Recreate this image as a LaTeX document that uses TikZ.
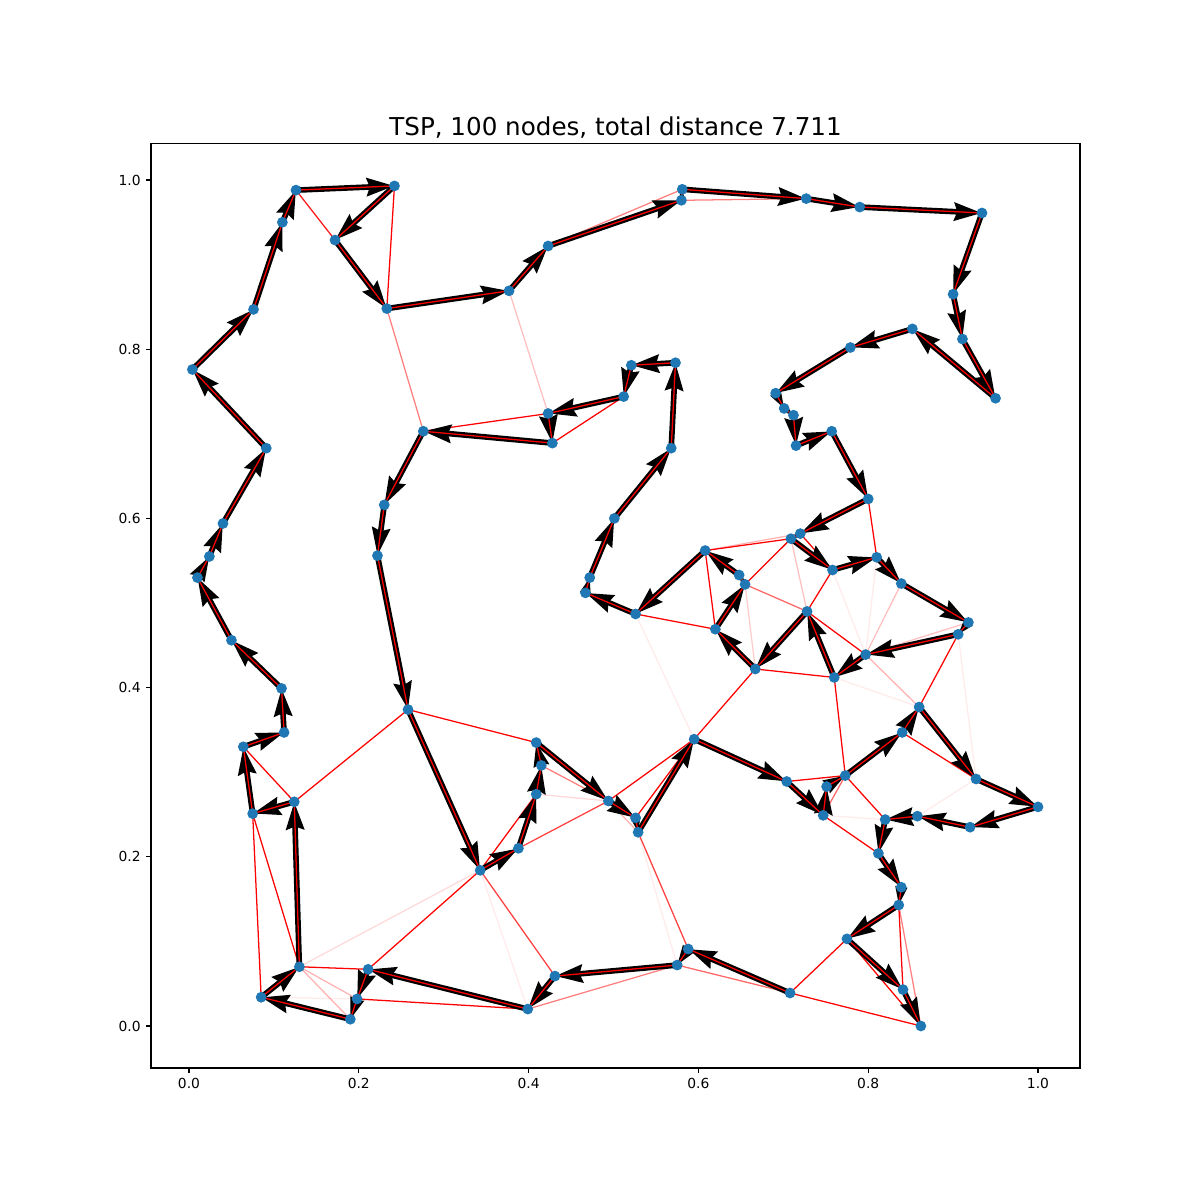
\documentclass[tikz,border=0pt]{standalone}
\usepackage{fontspec}
\setmainfont{DejaVu Sans}
\usetikzlibrary{arrows.meta,backgrounds}
\definecolor{mplblue}{RGB}{31,119,180}

\tikzset{
  city/.style={circle, fill=mplblue, inner sep=0pt, minimum size=0.108cm},
  heat/.style={red, line width=0.36pt},
  axisline/.style={line width=0.31pt},
  ticklabel/.style={font=\fontsize{3.94pt}{4.7pt}\selectfont, inner sep=0pt}
}

\begin{document}
\begin{tikzpicture}
\useasboundingbox (0,0) rectangle (12,12);

\begin{scope}[shift={(1.89,1.74)}, x=8.49cm, y=8.46cm]

% Axes
\coordinate (lowleft) at (-0.0448,-0.0496);
\coordinate (upright) at (1.0495,1.0426);
\draw[axisline] (lowleft) rectangle (upright);
\foreach \t [count=\i] in {0.0,0.2,0.4,0.6,0.8,1.0} {
  \draw[axisline] (\t,-0.0496) -- ++(0,-0.049cm) node[ticklabel, below=0.049cm] (xl\i) {\t};
  \draw[axisline] (-0.0448,\t) -- ++(-0.049cm,0) node[ticklabel, left=0.049cm] (yl\i) {\t};
}

% Title
\node[font=\fontsize{7pt}{8pt}\selectfont, anchor=base, inner sep=0pt] (title) at (0.5024,1.0524)
  {TSP, 100 nodes, total distance 7.711};

% Cities, in tour order
\foreach \x/\y [count=\i] in {
  0.708/0.039, 0.588/0.091, 0.575/0.072, 0.431/0.059, 0.399/0.020,
  0.211/0.067, 0.198/0.032, 0.190/0.008, 0.085/0.034, 0.130/0.070,
  0.124/0.265, 0.075/0.251, 0.064/0.330, 0.112/0.347, 0.109/0.399,
  0.050/0.456, 0.010/0.530, 0.024/0.555, 0.040/0.594, 0.091/0.683,
  0.004/0.776, 0.076/0.847, 0.110/0.950, 0.126/0.988, 0.242/0.993,
  0.172/0.929, 0.233/0.848, 0.377/0.869, 0.423/0.922, 0.580/0.976,
  0.581/0.989, 0.727/0.978, 0.790/0.968, 0.934/0.961, 0.900/0.865,
  0.911/0.812, 0.950/0.742, 0.852/0.824, 0.779/0.802, 0.691/0.748,
  0.701/0.730, 0.712/0.722, 0.715/0.686, 0.757/0.703, 0.800/0.623,
  0.720/0.582, 0.709/0.576, 0.758/0.539, 0.810/0.554, 0.839/0.523,
  0.918/0.477, 0.906/0.463, 0.797/0.439, 0.760/0.412, 0.728/0.490,
  0.667/0.422, 0.620/0.469, 0.655/0.522, 0.648/0.533, 0.608/0.562,
  0.526/0.487, 0.467/0.512, 0.472/0.530, 0.501/0.600, 0.568/0.683,
  0.573/0.784, 0.521/0.781, 0.512/0.744, 0.423/0.724, 0.428/0.689,
  0.276/0.703, 0.230/0.616, 0.222/0.556, 0.258/0.374, 0.343/0.184,
  0.388/0.210, 0.409/0.274, 0.415/0.308, 0.409/0.335, 0.494/0.266,
  0.526/0.246, 0.529/0.229, 0.595/0.339, 0.704/0.289, 0.747/0.249,
  0.751/0.283, 0.773/0.296, 0.840/0.347, 0.860/0.377, 0.927/0.292,
  1.000/0.259, 0.920/0.235, 0.858/0.248, 0.820/0.244, 0.812/0.204,
  0.839/0.164, 0.836/0.143, 0.775/0.103, 0.841/0.043, 0.862/0.000}
  \node[city] (c\i) at (\x,\y) {};

\begin{scope}[on background layer]
% Heatmap edges
\foreach \a/\b/\o in {
  25/27/1, 71/69/1, 68/70/1, 74/79/1, 74/11/1, 13/11/1, 60/57/1, 61/57/1,
  58/47/1, 60/47/1, 56/54/1, 56/83/1, 45/49/1, 46/48/1, 48/55/1, 55/53/1,
  52/89/1, 54/87/1, 88/90/1, 12/9/1, 12/10/1, 10/6/1, 6/75/1, 7/5/1,
  75/77/1, 80/83/1, 81/83/1, 84/87/1, 87/94/1, 85/95/1, 97/99/1, 98/100/1,
  98/1/1, 100/1/1, 24/26/0.9, 75/4/0.75, 76/80/0.75, 82/2/0.75,
  3/1/0.6, 58/55/0.6, 87/85/0.6, 97/100/0.5, 78/80/0.5, 3/5/0.5,
  30/32/0.5, 29/31/0.5, 27/71/0.5, 60/46/0.3, 53/89/0.3, 10/7/0.3,
  10/8/0.3, 80/82/0.3, 47/55/0.25, 50/53/0.25, 51/53/0.25, 28/69/0.25,
  58/56/0.2, 10/75/0.15, 77/80/0.15, 61/83/0.08, 9/7/0.08, 75/5/0.08,
  82/3/0.08, 85/94/0.08, 93/90/0.08, 49/53/0.08, 48/53/0.08, 54/89/0.08,
  52/90/0.08}
  \draw[heat, opacity=\o] (c\a.center) -- (c\b.center);

% Tour arrows, heads shrink on short legs
\foreach \i [evaluate=\i as \j using int(\i+1)] in {1,...,99} {
  \path (c\i.center); \pgfgetlastxy{\xa}{\ya}
  \path (c\j.center); \pgfgetlastxy{\xb}{\yb}
  \pgfmathsetmacro{\fac}{min(1,veclen(\xb-\xa,\yb-\ya)/7.8)}
  \pgfmathsetmacro{\hl}{7.8*\fac}
  \pgfmathsetmacro{\hw}{5.0*\fac}
  \pgfmathsetmacro{\hi}{0.8*\fac}
  \pgfmathsetmacro{\sw}{1.6*\fac}
  \draw[black, line width=\sw pt, -{Stealth[length=\hl pt, width=\hw pt, inset=\hi pt]}]
    (c\i.center) -- (c\j.center);
}
\foreach \i [evaluate=\i as \j using int(\i+1)] in {1,...,99}
  \draw[heat] (c\i.center) -- (c\j.center);
\end{scope}

\end{scope}
\end{tikzpicture}
\end{document}
